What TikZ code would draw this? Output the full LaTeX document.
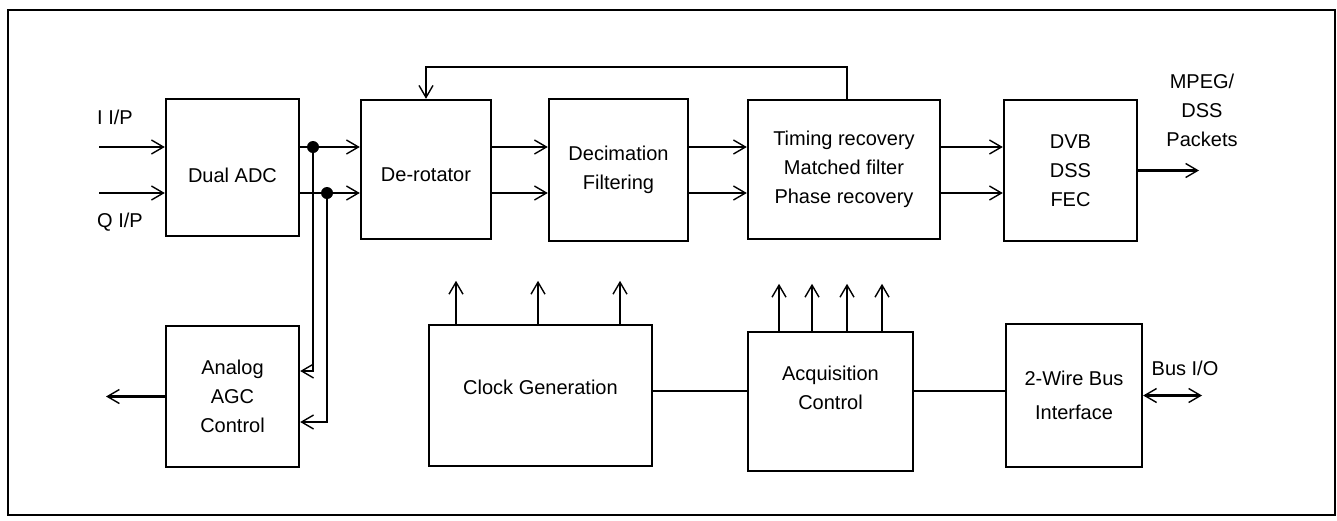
\documentclass[tikz,border=0pt]{standalone}
\usepackage{fontspec}
\setmainfont{Liberation Sans}
\usetikzlibrary{arrows.meta}

\begin{document}
\begin{tikzpicture}[x=1pt, y=-1pt,
    >={Straight Barb[length=12pt, width=14pt, line width=1.4pt]},
    every node/.style={font=\fontsize{20}{29}\selectfont},
    box/.style={draw, line width=2.4pt, inner sep=0pt, align=center},
    sig/.style={line width=2.4pt},
    dot/.style={circle, fill, inner sep=0pt, minimum size=12pt},
    lbl/.style={inner sep=0pt, align=center}]
    \useasboundingbox (0,0) rectangle (1337,520);
    % Frame
    \draw[line width=2.4pt] (8,10) rectangle (1335,515);

    % Blocks
    \node[box, minimum width=133pt, minimum height=137pt, text height=29.5pt] (adc) at (232.5,167.5) {Dual ADC};
    \node[box, minimum width=130pt, minimum height=139pt, text height=23.5pt] (rot) at (426,169.5) {De-rotator};
    \node[box, minimum width=139pt, minimum height=142pt] (dec) at (618.5,170) {Decimation\\Filtering};
    \node[box, minimum width=192pt, minimum height=139pt] (tim) at (844,169.5) {Timing recovery\\Matched filter\\Phase recovery};
    \node[box, minimum width=133pt, minimum height=141pt] (fec) at (1070.5,170.5) {DVB\\DSS\\FEC};
    \node[box, minimum width=133pt, minimum height=141pt] (agc) at (232.5,396.5) {Analog\\AGC\\Control};
    \node[box, minimum width=223pt, minimum height=141pt, text depth=17pt] (clk) at (540.5,395.5) {Clock Generation};
    \node[box, minimum width=165pt, minimum height=139pt, text depth=28pt] (acq) at (830.5,401.5) {Acquisition\\Control};
    \node[box, minimum width=136pt, minimum height=143pt] (bus) at (1074,395.5) {2-Wire Bus\\[5pt]Interface};

    % Labels
    \node[lbl, anchor=west] (ilbl) at (97,117) {I I/P};
    \node[lbl, anchor=west] (qlbl) at (97,222) {Q I/P};
    \node[lbl] (mpeg) at (1202,110.5) {MPEG/\\DSS\\Packets};
    \node[lbl] (busio) at (1185,368) {Bus I/O};

    % Ends and junctions
    \coordinate (iin) at (99,147);
    \coordinate (qin) at (99,193);
    \node[dot] (ji) at (313,147) {};
    \node[dot] (jq) at (327,193) {};
    \coordinate (agcout) at (106,396.5);
    \coordinate (mpegout) at (1199,170.5);
    \coordinate (busout) at (1202,395.5);
    \coordinate (ctl) at (0,391);

    % Signal path
    \draw[sig, ->] (iin) -- (adc.west |- iin);
    \draw[sig, ->] (qin) -- (adc.west |- qin);
    \draw[sig, ->] (adc.east |- ji) -- (rot.west |- ji);
    \draw[sig, ->] (adc.east |- jq) -- (rot.west |- jq);
    \draw[sig, ->] (rot.east |- ji) -- (dec.west |- ji);
    \draw[sig, ->] (rot.east |- jq) -- (dec.west |- jq);
    \draw[sig, ->] (dec.east |- ji) -- (tim.west |- ji);
    \draw[sig, ->] (dec.east |- jq) -- (tim.west |- jq);
    \draw[sig, ->] (tim.east |- ji) -- (fec.west |- ji);
    \draw[sig, ->] (tim.east |- jq) -- (fec.west |- jq);
    \draw[sig, ->] (fec.east) -- (mpegout);
    \draw[sig, ->] ([xshift=3pt]tim.north) -- ++(0,-32) -| (rot.north);

    % AGC loop
    \draw[sig, ->] (ji.center) |- ([yshift=25.5pt]agc.east);
    \draw[sig, ->] (jq.center) |- ([yshift=-25.5pt]agc.east);
    \draw[sig, ->] (agc.west) -- (agcout);

    % Control
    \foreach \x in {456,538,620}
        \draw[sig, ->] (\x,0 |- clk.north) -- ++(0,-43);
    \foreach \x in {779,812,847,882}
        \draw[sig, ->] (\x,0 |- acq.north) -- ++(0,-47);
    \draw[sig] (clk.east |- ctl) -- (acq.west |- ctl);
    \draw[sig] (acq.east |- ctl) -- (bus.west |- ctl);
    \draw[sig, <->] (bus.east) -- (busout);
\end{tikzpicture}
\end{document}
